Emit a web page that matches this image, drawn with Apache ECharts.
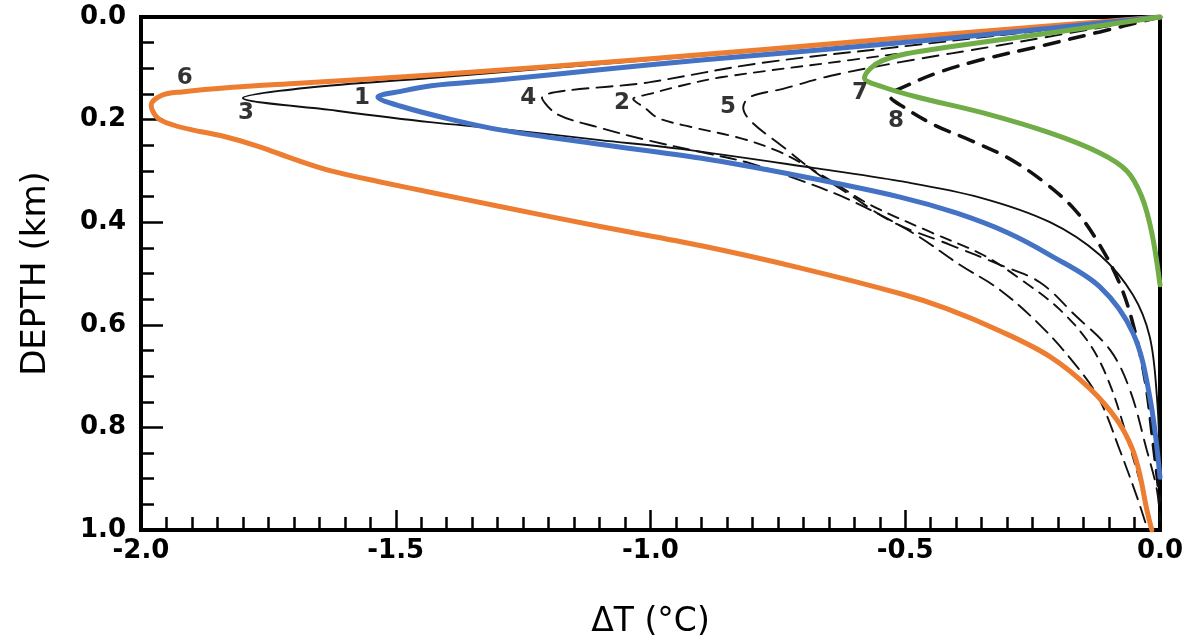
<!DOCTYPE html>
<html>
<head>
<meta charset="utf-8">
<script src="https://cdn.jsdelivr.net/npm/echarts@6/dist/echarts.min.js"></script>
<style>
html,body{margin:0;padding:0;background:#fff;}
#chart{width:1193px;height:642px;}
</style>
</head>
<body>
<div id="chart"></div>
<script>
// ---- Data: [deltaT (°C), depth (km)] ----
var curve1 = [[0,0],[-0.45,0.045],[-0.90,0.084],[-1.10,0.103],[-1.30,0.123],[-1.43,0.134],[-1.49,0.145],[-1.535,0.156],[-1.49,0.174],[-1.39,0.200],[-1.295,0.220],[-1.10,0.248],[-0.903,0.275],[-0.707,0.310],[-0.510,0.351],[-0.40,0.382],[-0.30,0.420],[-0.216,0.464],[-0.118,0.526],[-0.053,0.616],[-0.020,0.741],[0,0.897]];
var curve2 = [[0,0],[-0.314,0.045],[-0.608,0.084],[-0.858,0.117],[-0.936,0.133],[-1.001,0.150],[-1.034,0.160],[-1.011,0.177],[-0.985,0.197],[-0.922,0.214],[-0.824,0.236],[-0.756,0.259],[-0.707,0.283],[-0.648,0.318],[-0.569,0.366],[-0.451,0.419],[-0.347,0.464],[-0.271,0.513],[-0.196,0.571],[-0.137,0.639],[-0.098,0.717],[-0.063,0.825],[-0.029,0.942],[-0.014,1.0]];
var curve3 = [[0,0],[-1.001,0.084],[-1.433,0.119],[-1.674,0.138],[-1.800,0.158],[-1.629,0.181],[-1.433,0.205],[-1.295,0.218],[-1.099,0.240],[-0.942,0.257],[-0.681,0.294],[-0.510,0.320],[-0.353,0.352],[-0.216,0.400],[-0.118,0.464],[-0.053,0.542],[-0.020,0.624],[-0.006,0.741],[0,0.869]];
var curve4 = [[0,0],[-0.510,0.058],[-0.785,0.090],[-1.001,0.127],[-1.213,0.158],[-1.184,0.189],[-1.099,0.216],[-1.007,0.240],[-0.903,0.263],[-0.805,0.285],[-0.707,0.318],[-0.608,0.357],[-0.485,0.421],[-0.393,0.483],[-0.314,0.532],[-0.232,0.604],[-0.161,0.684],[-0.118,0.747],[-0.079,0.844],[-0.045,0.936],[-0.024,1.0]];
var curve5 = [[0,0],[-0.314,0.055],[-0.510,0.088],[-0.648,0.115],[-0.740,0.140],[-0.805,0.156],[-0.818,0.177],[-0.801,0.205],[-0.740,0.253],[-0.677,0.302],[-0.608,0.347],[-0.524,0.400],[-0.412,0.444],[-0.314,0.483],[-0.236,0.517],[-0.167,0.581],[-0.098,0.649],[-0.059,0.727],[-0.026,0.844],[-0.006,0.922],[0,0.981]];
var curve6 = [[0,0],[-0.50,0.040],[-1.03,0.084],[-1.43,0.113],[-1.69,0.129],[-1.82,0.137],[-1.92,0.146],[-1.96,0.153],[-1.98,0.172],[-1.967,0.197],[-1.935,0.211],[-1.90,0.220],[-1.84,0.232],[-1.77,0.252],[-1.70,0.277],[-1.627,0.300],[-1.528,0.322],[-1.43,0.342],[-1.293,0.370],[-1.096,0.409],[-0.90,0.446],[-0.703,0.490],[-0.507,0.540],[-0.42,0.568],[-0.314,0.612],[-0.216,0.662],[-0.137,0.725],[-0.084,0.786],[-0.055,0.840],[-0.040,0.890],[-0.026,0.960],[-0.016,1.0]];
var curve7 = [[0,0],[-0.216,0.031],[-0.412,0.058],[-0.50,0.072],[-0.545,0.085],[-0.568,0.100],[-0.580,0.119],[-0.545,0.136],[-0.477,0.156],[-0.347,0.187],[-0.216,0.226],[-0.118,0.265],[-0.065,0.300],[-0.036,0.350],[-0.016,0.421],[0,0.522]];
var curve8 = [[0,0],[-0.118,0.029],[-0.236,0.057],[-0.353,0.084],[-0.432,0.107],[-0.491,0.131],[-0.530,0.154],[-0.501,0.177],[-0.442,0.211],[-0.373,0.240],[-0.294,0.277],[-0.222,0.326],[-0.167,0.376],[-0.124,0.435],[-0.082,0.513],[-0.055,0.591],[-0.029,0.708],[-0.014,0.825],[0,0.942]];
// curve number labels: [text, deltaT, depth]
var curveLabels = [['1',-1.566,0.158],['2',-1.056,0.168],['3',-1.794,0.187],['4',-1.240,0.158],['5',-0.848,0.175],['6',-1.914,0.119],['7',-0.589,0.148],['8',-0.518,0.203]];
var xTicks = [-2.0,-1.5,-1.0,-0.5,0.0];
var yTicks = [0.0,0.2,0.4,0.6,0.8,1.0];

var chart = echarts.init(document.getElementById('chart'), null, {renderer:'canvas'});
var FONT = 'DejaVu Sans';
function blackLine(name, data, dashed, width){
  return {name:name, type:'line', data:data, smooth:0.35, symbol:'none', silent:true,
    lineStyle:{color:'#111', width:width||1.9, type: dashed ? dashed : 'solid', cap:'round'}, z:2};
}
function colorLine(name, data, color){
  return {name:name, type:'line', data:data, smooth:0.35, symbol:'none', silent:true,
    lineStyle:{color:color, width:5, cap:'round', join:'round'}, z:5};
}
function fmt(list){
  return function(v){ var t=list.filter(function(k){return Math.abs(k-v)<1e-6;}); return t.length? t[0].toFixed(1):''; };
}
var option = {
  animation:false,
  backgroundColor:'#fff',
  grid:{left:141, right:33, top:17, bottom:112, containLabel:false, outerBoundsMode:'none',
    show:true, borderColor:'#000', borderWidth:4, backgroundColor:'transparent'},
  xAxis:{type:'value', min:-2, max:0, interval:0.5, position:'bottom',
    name:'ΔT (°C)', nameLocation:'middle', nameGap:76,
    nameTextStyle:{fontFamily:FONT, fontSize:33, color:'#000'},
    axisLine:{show:true, onZero:false, lineStyle:{color:'#000', width:4}},
    axisTick:{show:true, inside:true, length:20, lineStyle:{color:'#000', width:2.5}},
    minorTick:{show:true, splitNumber:10, length:13, lineStyle:{color:'#000', width:2.5}},
    splitLine:{show:false}, minorSplitLine:{show:false},
    axisLabel:{fontFamily:FONT, fontSize:26, fontWeight:'bold', color:'#000', margin:8, formatter:fmt(xTicks)}
  },
  yAxis:{type:'value', min:0, max:1, interval:0.2, inverse:true, position:'left',
    name:'DEPTH (km)', nameLocation:'middle', nameGap:88, nameRotate:90,
    nameTextStyle:{fontFamily:FONT, fontSize:34, color:'#000'},
    axisLine:{show:true, onZero:false, lineStyle:{color:'#000', width:4}},
    axisTick:{show:true, inside:true, length:22, lineStyle:{color:'#000', width:2.5}},
    minorTick:{show:true, splitNumber:4, length:13, lineStyle:{color:'#000', width:2.5}},
    splitLine:{show:false}, minorSplitLine:{show:false},
    axisLabel:{fontFamily:FONT, fontSize:26, fontWeight:'bold', color:'#000', margin:15, formatter:fmt(yTicks)}
  },
  series:[
    blackLine('curve 6', curve6),
    blackLine('curve 3', curve3),
    blackLine('curve 1', curve1),
    blackLine('curve 4', curve4, [16,8]),
    blackLine('curve 2', curve2, [11,8]),
    blackLine('curve 5', curve5, [16,9]),
    blackLine('curve 7', curve7, [14,8]),
    blackLine('curve 8', curve8, [15,11], 3.6),
    colorLine('curve 6 (highlight)', curve6, '#ED7D31'),
    colorLine('curve 1 (highlight)', curve1, '#4472C4'),
    colorLine('curve 7 (highlight)', curve7, '#70AD47'),
    {name:'labels', type:'scatter', silent:true, symbolSize:1, itemStyle:{color:'transparent'}, z:10,
      data: curveLabels.map(function(d){ return {name:d[0], value:[d[1], d[2]]}; }),
      label:{show:true, position:'inside', formatter:'{b}', fontFamily:FONT, fontSize:23, fontWeight:'bold', color:'#000', textBorderWidth:0}}
  ]
};
chart.setOption(option);
</script>
</body>
</html>
